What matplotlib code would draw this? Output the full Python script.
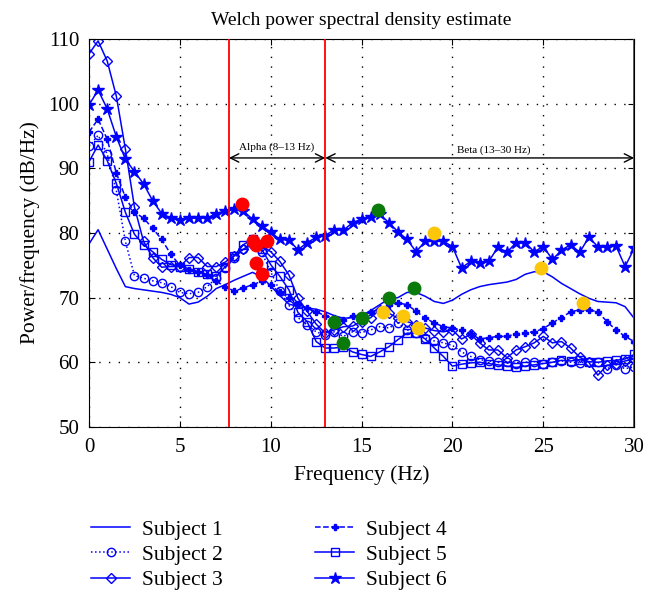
import numpy as np
import matplotlib
matplotlib.use('Agg')
import matplotlib.pyplot as plt

plt.rcParams['font.family'] = ['Liberation Serif', 'DejaVu Serif']

# -------------------------------------------------------------------
# data (0.5 Hz bins, 0..30 Hz)
freq = np.arange(0, 30.01, 0.5)

subj1 = [78.3, 80.5, 77.5, 74.5, 71.7, 71.4, 71.2, 71.0, 70.8, 70.5,
         70.0, 69.0, 69.3, 70.2, 71.4, 72.0, 72.7, 73.3, 73.9, 73.2,
         71.8, 70.3, 69.0, 68.6, 68.4, 68.2, 67.8, 67.2, 66.8, 66.9,
         67.2, 68.0, 68.9, 69.8, 70.0, 70.8, 70.8, 70.2, 69.4, 69.1,
         69.6, 70.5, 71.2, 71.7, 72.0, 72.2, 72.4, 72.8, 73.6, 74.0,
         74.0, 73.2, 72.2, 71.4, 70.6, 69.9, 69.4, 69.3, 69.2, 68.6,
         66.8]
subj2 = [93.4, 95.1, 92.2, 86.6, 78.7, 73.4, 73.0, 72.6, 72.3, 71.7,
         70.8, 70.6, 70.8, 71.7, 73.0, 74.6, 76.2, 77.5, 78.3, 77.0,
         74.0, 71.0, 68.8, 66.9, 65.8, 64.7, 64.2, 64.7, 64.0, 64.7,
         64.6, 65.0, 65.5, 65.3, 66.1, 65.0, 64.6, 63.8, 63.3, 63.0,
         62.6, 61.6, 60.9, 60.4, 60.2, 60.0, 60.1, 59.8, 60.0, 60.1,
         59.8, 60.0, 60.2, 60.0, 59.9, 60.1, 60.0, 59.0, 59.6, 59.0,
         59.3]
subj3 = [107.7, 109.7, 106.6, 101.2, 93.0, 84.0, 78.7, 76.2, 74.7, 74.8,
         74.8, 76.2, 76.2, 74.8, 74.8, 75.5, 76.5, 77.5, 78.2, 78.0,
         77.1, 75.6, 73.5, 69.9, 67.9, 65.9, 64.5, 65.0, 65.5, 65.6,
         66.3, 66.9, 68.1, 67.6, 66.8, 66.3, 65.8, 65.3, 64.9, 64.7,
         65.0, 63.6, 64.3, 63.0, 61.9, 61.9, 60.7, 61.9, 62.4, 63.0,
         64.0, 63.0, 63.2, 62.2, 60.8, 60.0, 58.0, 59.5, 59.8, 60.2,
         60.5]
subj4 = [95.6, 97.6, 94.5, 89.3, 85.5, 83.2, 82.3, 80.7, 79.0, 76.7,
         75.0, 74.3, 74.0, 73.5, 72.5, 71.7, 71.0, 71.5, 72.0, 72.5,
         71.9, 70.8, 70.0, 69.0, 68.4, 67.8, 67.2, 66.8, 66.6, 67.1,
         67.3, 67.8, 68.2, 68.8, 69.2, 68.9, 67.9, 66.8, 66.1, 65.5,
         65.3, 65.0, 64.4, 63.6, 63.8, 64.0, 64.0, 64.4, 64.6, 64.7,
         65.2, 66.1, 66.9, 67.8, 68.1, 68.1, 67.8, 66.3, 65.0, 64.0,
         63.2]
subj5 = [91.0, 93.6, 91.2, 87.7, 83.2, 79.8, 78.2, 77.1, 75.9, 75.1,
         74.8, 74.5, 74.0, 73.6, 73.3, 74.8, 76.5, 78.2, 79.0, 77.5,
         75.1, 73.3, 71.2, 67.7, 66.3, 63.2, 62.2, 62.2, 62.4, 61.6,
         61.2, 60.9, 61.6, 62.4, 63.5, 64.5, 64.5, 63.6, 62.2, 60.9,
         59.4, 59.7, 59.9, 60.0, 59.8, 59.6, 59.4, 59.2, 59.4, 59.6,
         59.8, 60.0, 60.3, 60.2, 60.4, 60.1, 60.0, 60.2, 60.3, 60.5,
         61.2]
subj6 = [99.8, 102.1, 99.2, 94.9, 91.4, 89.5, 87.6, 85.0, 83.0, 82.3,
         82.0, 82.3, 82.3, 82.3, 83.0, 83.4, 83.7, 83.4, 82.1, 81.1,
         80.1, 79.0, 78.9, 77.4, 78.5, 79.3, 79.6, 80.5, 80.4, 81.6,
         82.1, 82.4, 82.9, 81.6, 80.2, 79.0, 77.1, 78.7, 78.7, 78.7,
         77.9, 74.6, 75.6, 75.4, 75.6, 77.8, 77.0, 78.5, 78.5, 77.1,
         77.9, 75.9, 77.3, 78.2, 77.0, 79.3, 77.9, 77.8, 78.0, 74.8,
         77.6]

labels = ['Subject 1', 'Subject 2', 'Subject 3',
          'Subject 4', 'Subject 5', 'Subject 6']

# band peak markers
alpha_f = [8.4, 9.0, 9.2, 9.8, 9.2, 9.5]
alpha_p = [84.4, 78.8, 78.1, 78.7, 75.4, 73.7]
beta1_f = [13.5, 14.0, 15.0, 15.9, 16.5, 17.9]
beta1_p = [66.3, 63.0, 66.9, 83.6, 70.0, 71.5]
beta2_f = [16.2, 17.3, 18.1, 19.0, 24.9, 27.2]
beta2_p = [67.7, 67.1, 65.3, 80.0, 74.6, 69.1]

band_edges = [7.7, 13, 30]

# -------------------------------------------------------------------
fig = plt.figure(figsize=(6.56, 6.09), dpi=100)
ax = fig.add_axes([0.1357, 0.299, 0.831, 0.637])

blue = '#0000ff'
styles = [
    dict(ls='-', marker=None),
    dict(ls=':', marker='o', mfc='none', ms=6),
    dict(ls='-', marker='D', mfc='none', ms=5),
    dict(ls='--', marker='P', ms=5),
    dict(ls='-', marker='s', mfc='none', ms=6),
    dict(ls='-', marker='*', ms=9),
]
series = [subj1, subj2, subj3, subj4, subj5, subj6]

handles = []
for vals, st, lab in zip(series, styles, labels):
    ln, = ax.plot(freq, vals, color=blue, lw=1.1, label=lab,
                  mec=blue, mew=1.0, **st)
    handles.append(ln)

for x in band_edges:
    ax.axvline(x, color='red', lw=1.3, zorder=4)

ax.plot(alpha_f, alpha_p, 'o', color='#ff0000', ms=10, mec='none', zorder=5)
ax.plot(beta1_f, beta1_p, 'o', color='#0a7a0a', ms=10, mec='none', zorder=5)
ax.plot(beta2_f, beta2_p, 'o', color='#fcc60a', ms=10, mec='none', zorder=5)

# band arrows
ax.annotate('', xy=(band_edges[0], 91.6), xytext=(band_edges[1], 91.6),
            arrowprops=dict(arrowstyle='<->', color='black', lw=1.0,
                            mutation_scale=15, shrinkA=0, shrinkB=0))
ax.annotate('', xy=(band_edges[1], 91.6), xytext=(band_edges[2], 91.6),
            arrowprops=dict(arrowstyle='<->', color='black', lw=1.0,
                            mutation_scale=15, shrinkA=0, shrinkB=0))
ax.text(10.35, 92.5, 'Alpha (8–13 Hz)', fontsize=8, ha='center', va='bottom')
ax.text(22.3, 92.0, 'Beta (13–30 Hz)', fontsize=8, ha='center', va='bottom')

ax.set_xlim(0, 30)
ax.set_ylim(50, 110)
ax.set_xticks(range(0, 31, 5))
ax.set_yticks(range(50, 111, 10))
ax.tick_params(direction='in', top=True, right=True, labelsize=15, length=4)
ax.tick_params(axis='x', pad=8)
ax.tick_params(axis='y', pad=7)
ax.grid(True, color='black', linestyle=(0, (1, 6)), lw=1.0)

ax.set_title('Welch power spectral density estimate', fontsize=14, pad=10)
ax.set_xlabel('Frequency (Hz)', fontsize=15.5, labelpad=6)
ax.set_ylabel('Power/frequency (dB/Hz)', fontsize=15.5, labelpad=6)

fig.legend(handles=handles, loc='center', bbox_to_anchor=(0.41, 0.089),
           ncol=2, frameon=False, fontsize=15.5, handlelength=1.8,
           handletextpad=0.55, columnspacing=4.3, labelspacing=0.24)

plt.savefig('out.png', dpi=100)
plt.close()
